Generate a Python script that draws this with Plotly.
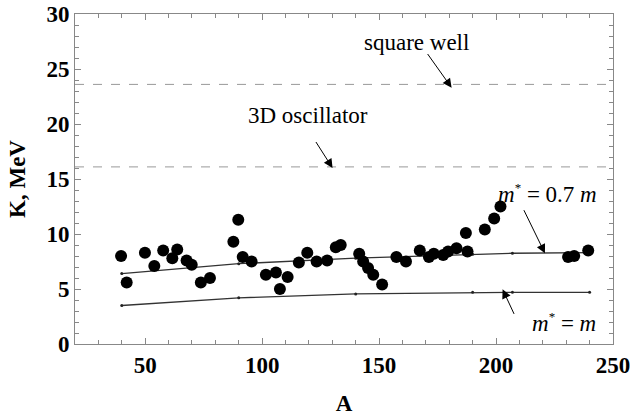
import plotly.graph_objects as go

# Experimental points
A_exp = [39.7, 42.1, 49.9, 53.9, 57.7, 61.6, 63.7, 67.7, 69.9, 73.8, 77.7,
         87.7, 89.8, 91.7, 95.5, 101.6, 105.9, 107.6, 110.9, 115.7, 119.3, 123.3,
         127.8, 131.5, 133.6, 141.5, 143.2, 145.3, 147.5, 151.3, 157.4, 161.5,
         167.4, 171.3, 173.4, 177.4, 179.5, 183.1, 187.1, 187.8, 195.2, 199.2,
         201.9, 230.8, 233.4, 239.4]
K_exp = [8.0, 5.6, 8.3, 7.1, 8.5, 7.8, 8.6, 7.6, 7.2, 5.6, 6.0,
         9.3, 11.3, 7.9, 7.5, 6.3, 6.5, 5.0, 6.1, 7.4, 8.3, 7.5,
         7.6, 8.8, 9.0, 8.2, 7.5, 6.9, 6.3, 5.4, 7.9, 7.5,
         8.5, 7.9, 8.2, 8.1, 8.4, 8.7, 10.1, 8.4, 10.4, 11.4,
         12.5, 7.9, 8.0, 8.5]

# Theory curves
A_th = [40, 90, 140, 190, 207, 240]
K_07m = [6.4, 7.3, 7.8, 8.15, 8.25, 8.3]
K_m = [3.5, 4.2, 4.55, 4.7, 4.7, 4.7]

# Reference levels
K_square_well = 23.6
K_oscillator = 16.1

x_range = [20, 250]
y_range = [0, 30]

serif = "Liberation Serif, Times New Roman, serif"

fig = go.Figure()

for lvl in [K_square_well, K_oscillator]:
    fig.add_trace(go.Scatter(x=x_range, y=[lvl, lvl], mode="lines",
                             line=dict(color="#999999", width=1, dash="dash"),
                             showlegend=False, hoverinfo="skip"))

for K_line in [K_07m, K_m]:
    fig.add_trace(go.Scatter(x=A_th, y=K_line, mode="lines+markers",
                             line=dict(color="#333333", width=1.3),
                             marker=dict(color="#222222", size=3),
                             showlegend=False))

fig.add_trace(go.Scatter(x=A_exp, y=K_exp, mode="markers",
                         marker=dict(color="black", size=12),
                         showlegend=False))

star = "<sup><span style='font-size:13px'>*</span></sup>"
annos = [
    dict(text="square well", x=166, y=27.4),
    dict(text="3D oscillator", x=119.7, y=20.8),
    dict(text="<i>m</i>" + star + " = 0.7 <i>m</i>", x=222, y=13.7),
    dict(text="<i>m</i>" + star + " = <i>m</i>", x=229, y=2.0),
]
for a in annos:
    fig.add_annotation(x=a["x"], y=a["y"], xref="x", yref="y", text=a["text"],
                       showarrow=False, font=dict(family=serif, size=23, color="black"))

arrows = [
    (181, 23.3, 170.3, 26.5),
    (130.1, 16.0, 122.6, 18.5),
    (220.9, 8.25, 211.6, 12.3),
    (202.8, 4.97, 208.0, 2.6),
]
for hx, hy, tx, ty in arrows:
    fig.add_annotation(x=hx, y=hy, ax=tx, ay=ty, xref="x", yref="y",
                       axref="x", ayref="y", text="", showarrow=True,
                       arrowhead=2, arrowsize=1.8, arrowwidth=1, arrowcolor="black")

axis_common = dict(
    showgrid=False, zeroline=False, showline=True, linecolor="#888888", linewidth=1,
    mirror="allticks", ticks="inside", ticklen=6, tickcolor="#888888",
    tickfont=dict(family=serif, size=23, color="black", weight="bold"),
    automargin=False, ticklabeloverflow="allow",
)

fig.update_xaxes(range=x_range, dtick=50, tick0=0,
                 minor=dict(dtick=10, ticks="inside", ticklen=4, tickcolor="#888888"),
                 ticklabelstandoff=0,
                 title=dict(text="<b>A</b>", font=dict(family=serif, size=23, color="black"),
                            standoff=18),
                 **axis_common)
fig.update_yaxes(range=y_range, dtick=5, tick0=0,
                 minor=dict(dtick=1, ticks="inside", ticklen=4, tickcolor="#888888"),
                 ticklabelstandoff=0,
                 title=dict(text="<b>K, MeV</b>", font=dict(family=serif, size=23, color="black"),
                            standoff=14),
                 **axis_common)

fig.update_layout(width=630, height=416, margin=dict(l=75, r=17, t=14, b=72),
                  plot_bgcolor="white", paper_bgcolor="white")

fig.write_html("out.html", config={"displayModeBar": False},
               post_script="document.body.style.margin='0';")
